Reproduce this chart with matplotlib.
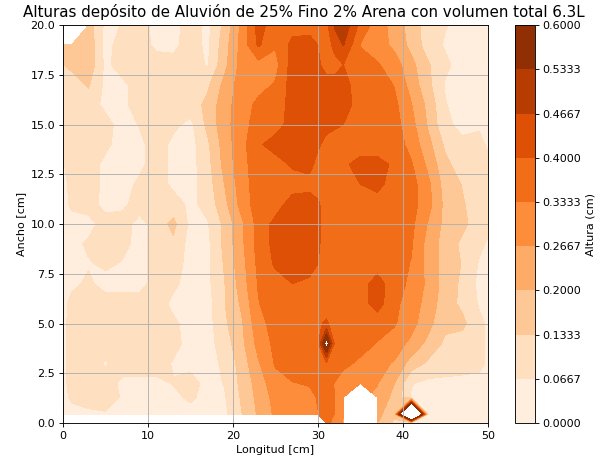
import numpy as np
import matplotlib
matplotlib.use("Agg")
import matplotlib.pyplot as plt

nan = np.nan

# Grid positions (cm)
x_cm = [0, 1, 3, 5, 7, 9, 11, 13, 15, 17, 19, 21, 23, 25, 27, 29, 30, 31, 32,
        33, 35, 37, 39, 41, 43, 45, 47, 49, 50]
y_cm = [0, 0.45, 1.3, 2, 3, 4, 5, 6, 7, 8, 9, 10, 11, 12, 13, 14, 15, 16, 17,
        18, 19, 20]

# Deposit heights (cm), one row per y value (bottom to top)
heights = [
    [nan, nan, nan, nan, nan, nan, nan, nan, nan, nan, nan, nan, nan, nan, nan, nan, nan, .36, .30, .26, nan, .20, .12, .05, .04, .04, .04, .04, .04],
    [.04, .04, .05, .06, .05, .04, .04, .04, .04, .04, .05, .13, .21, .28, .29, .30, .33, .37, .33, .27, nan, .22, .15, 1.6, .05, .04, .04, .04, .04],
    [.04, .08, .10, .10, .06, .04, .04, .05, .08, .04, .06, .14, .22, .29, .30, .31, .34, .37, .33, .28, nan, .25, .18, .06, .05, .04, .04, .04, .04],
    [.04, .10, .10, .10, .05, .05, .05, .07, .10, .04, .07, .15, .23, .31, .33, .34, .35, .36, .33, .30, .30, .27, .20, .07, .05, .05, .05, .05, .04],
    [.04, .10, .10, .06, .10, .10, .10, .06, .04, .04, .08, .16, .26, .34, .37, .37, .37, .39, .37, .35, .32, .29, .26, .17, .12, .10, .09, .08, .06],
    [.04, .10, .10, .10, .10, .10, .10, .09, .04, .04, .10, .18, .29, .35, .37, .37, .39, .66, .38, .37, .36, .33, .30, .25, .18, .12, .10, .08, .06],
    [.04, .10, .10, .10, .10, .10, .10, .08, .04, .04, .12, .19, .31, .36, .37, .37, .39, .41, .37, .37, .37, .36, .34, .29, .22, .15, .15, .08, .06],
    [.04, .09, .10, .10, .10, .10, .10, .05, .04, .04, .13, .21, .33, .37, .37, .37, .37, .37, .37, .37, .37, .43, .35, .30, .24, .16, .12, .06, .05],
    [.04, .05, .08, .04, .04, .04, .10, .08, .04, .05, .13, .23, .34, .37, .40, .39, .38, .37, .37, .37, .37, .43, .36, .32, .25, .17, .12, .05, .04],
    [.04, .04, .06, .08, .06, .04, .10, .10, .04, .05, .14, .24, .35, .41, .43, .42, .40, .37, .37, .37, .37, .37, .36, .33, .24, .17, .13, .06, .05],
    [.04, .04, .08, .10, .09, .04, .10, .12, .04, .05, .15, .25, .36, .42, .44, .42, .41, .37, .37, .37, .37, .37, .37, .34, .24, .17, .12, .08, .06],
    [.04, .04, .04, .10, .10, .04, .10, .15, .05, .06, .15, .25, .36, .42, .44, .43, .41, .37, .37, .37, .37, .37, .37, .35, .26, .18, .15, .10, .08],
    [.04, .08, .10, .04, .05, .10, .10, .10, .05, .09, .18, .29, .37, .37, .43, .43, .41, .37, .37, .37, .37, .37, .37, .36, .29, .18, .14, .10, .09],
    [.04, .09, .10, .05, .04, .08, .10, .05, .04, .10, .20, .30, .37, .37, .37, .38, .37, .37, .37, .37, .40, .42, .37, .36, .28, .17, .13, .10, .09],
    [.06, .10, .10, .05, .04, .05, .10, .05, .04, .11, .22, .31, .37, .37, .41, .42, .38, .37, .37, .39, .42, .42, .39, .34, .25, .15, .10, .10, .08],
    [.08, .10, .10, .08, .04, .05, .10, .05, .04, .12, .23, .31, .39, .43, .43, .43, .41, .38, .37, .37, .37, .37, .37, .31, .22, .12, .08, .08, .06],
    [.09, .10, .10, .09, .04, .07, .10, .08, .05, .15, .24, .31, .36, .37, .43, .43, .43, .42, .41, .40, .37, .37, .36, .29, .19, .08, .05, .06, .05],
    [.10, .10, .10, .05, .05, .10, .10, .10, .10, .15, .24, .30, .35, .37, .42, .44, .43, .43, .43, .43, .37, .37, .35, .27, .18, .07, .04, .05, .04],
    [.10, .10, .14, .05, .05, .10, .10, .10, .11, .12, .22, .30, .31, .34, .43, .44, .43, .42, .42, .42, .37, .37, .33, .24, .15, .06, .04, .04, .04],
    [.13, .15, .18, .05, .10, .10, .10, .09, .10, .06, .18, .29, .31, .31, .43, .44, .41, .38, .38, .40, .36, .34, .30, .22, .14, .08, .04, .04, .04],
    [.17, .17, .18, .04, .10, .10, .05, .05, .10, .05, .17, .29, .41, .34, .42, .42, .40, .37, .42, .47, .33, .30, .25, .18, .10, .06, .04, .04, .04],
    [nan, nan, .17, .05, .07, .10, .04, .04, .10, .05, .15, .28, .43, .36, .37, .38, .38, .38, .48, .52, .38, .30, .24, .17, .10, .07, .05, .04, .04],
]

levels = np.linspace(0, 0.6, 10)
title = "Alturas depósito de Aluvión de 25% Fino 2% Arena con volumen total 6.3L"

fig = plt.figure(figsize=(7.5, 5.8), dpi=80)
ax = fig.add_axes([0.105, 0.088, 0.708, 0.858])
cax = fig.add_axes([0.858, 0.088, 0.033, 0.858])

Z = np.ma.masked_invalid(np.array(heights, dtype=float))
cs = ax.contourf(x_cm, y_cm, Z, levels=levels, cmap="Oranges")
ax.grid(True)
ax.set_xlim(0, 50)
ax.set_ylim(0, 20)
ax.set_xlabel("Longitud [cm]")
ax.set_ylabel("Ancho [cm]")

cb = fig.colorbar(cs, cax=cax)
cb.set_label("Altura (cm)")

fig.suptitle(title, x=0.507, y=0.992, va="top", fontsize=13.6)

fig.savefig("out.png", dpi=80)
